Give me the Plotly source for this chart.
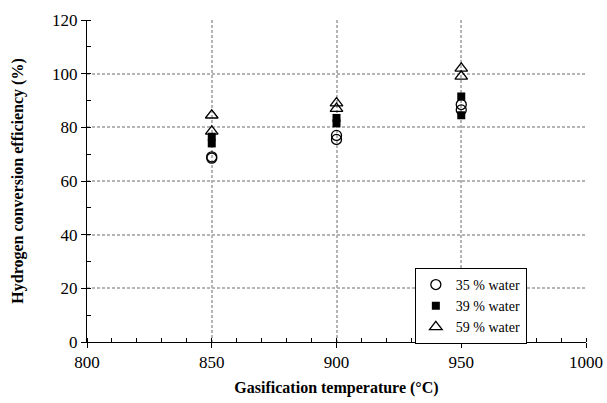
import plotly.graph_objects as go

temps = [850, 850, 900, 900, 950, 950]
water35 = [69.0, 68.5, 77.0, 75.5, 88.5, 86.5]
water39 = [76.5, 74.0, 83.5, 81.5, 91.5, 84.5]
water59 = [84.5, 78.5, 89.0, 87.0, 102.0, 99.0]
names = ["35 % water", "39 % water", "59 % water"]

FONT = "Liberation Serif, Times New Roman, serif"
GRID = "#b4b4b4"

fig = go.Figure()
fig.add_trace(go.Scatter(x=temps, y=water35, mode="markers", name=names[0],
                         marker=dict(symbol="circle-open", size=10, color="black", line=dict(width=1.3))))
fig.add_trace(go.Scatter(x=temps, y=water39, mode="markers", name=names[1],
                         marker=dict(symbol="square", size=8, color="black")))
fig.add_trace(go.Scatter(x=temps, y=water59, mode="markers", name=names[2],
                         marker=dict(symbol="triangle-up-open", size=11, color="black", line=dict(width=1.3))))

fig.update_layout(
    width=607, height=403,
    margin=dict(l=87, r=21, t=20, b=61, autoexpand=False),
    paper_bgcolor="white", plot_bgcolor="white",
    font=dict(family=FONT, size=15, color="black"),
    showlegend=True,
    legend=dict(x=0.657, y=0.23, xanchor="left", yanchor="top",
                bordercolor="black", borderwidth=1, bgcolor="white",
                font=dict(family=FONT, size=14), itemwidth=30, tracegroupgap=0),
    xaxis=dict(range=[800, 1000], dtick=50, tick0=800, automargin=False,
               showline=True, linecolor="black", linewidth=1,
               ticks="outside", ticklen=5, tickcolor="black",
               minor=dict(dtick=10, ticks="inside", ticklen=4, tickcolor="black", showgrid=False),
               showgrid=True, gridcolor=GRID, griddash="3px,2px", gridwidth=1.5,
               zeroline=False,
               title=dict(text="<b>Gasification temperature (°C)</b>", font=dict(family=FONT, size=16), standoff=10),
               tickfont=dict(family=FONT, size=17)),
    yaxis=dict(range=[0, 120], dtick=20, tick0=0, automargin=False,
               showline=True, linecolor="black", linewidth=1,
               ticks="outside", ticklen=5, tickcolor="black",
               minor=dict(dtick=10, ticks="inside", ticklen=4, tickcolor="black", showgrid=False),
               showgrid=True, gridcolor=GRID, griddash="3px,2px", gridwidth=1.5,
               zeroline=False,
               title=dict(text="<b>Hydrogen conversion efficiency (%)</b>", font=dict(family=FONT, size=16), standoff=24),
               tickfont=dict(family=FONT, size=17)),
)

fig.write_html("out.html")
